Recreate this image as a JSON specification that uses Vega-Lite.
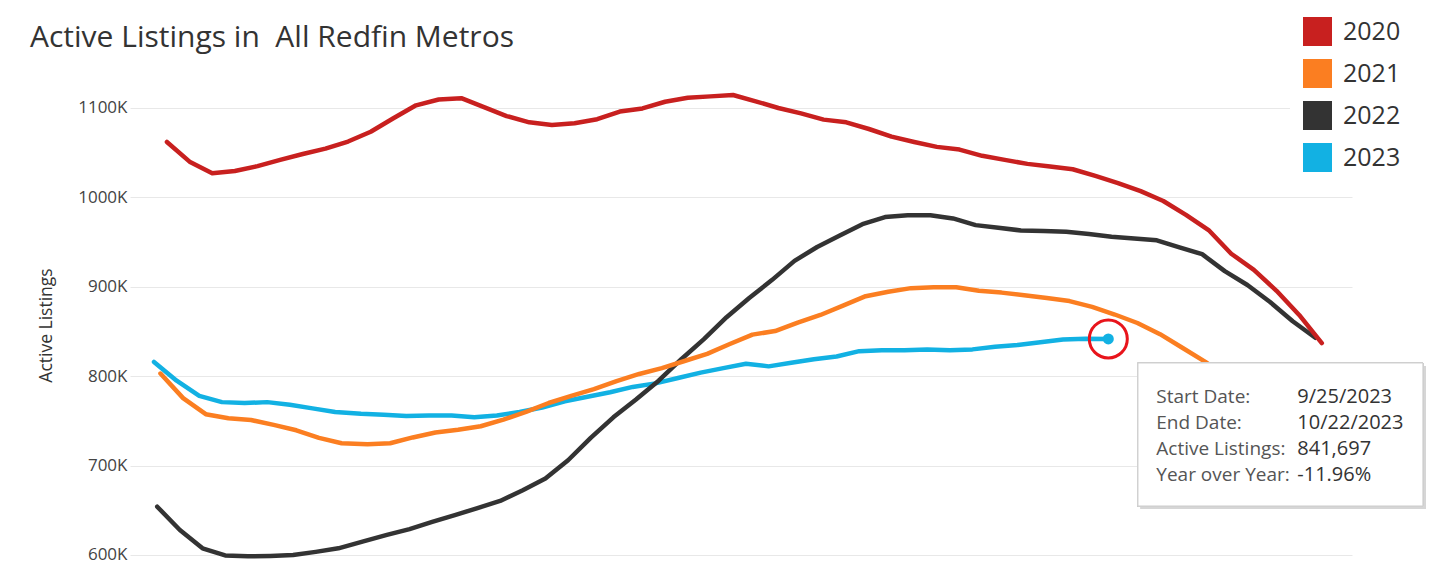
{
  "$schema": "https://vega.github.io/schema/vega-lite/v6.json",
  "width": 1222,
  "height": 516,
  "autosize": {"type": "none"},
  "padding": {"left": 130, "top": 60, "right": 78, "bottom": 0},
  "background": "white",
  "config": {"view": {"stroke": null}, "font": "Open Sans"},
  "title": {
    "text": "Active Listings in\u00a0 All Redfin Metros",
    "anchor": "start",
    "frame": "group",
    "dx": -100,
    "dy": 85,
    "offset": 12,
    "baseline": "alphabetic",
    "fontSize": 30,
    "font": "Open Sans",
    "fontWeight": "normal",
    "color": "#333333"
  },
  "data": {
    "values": [
      {"year": "2023", "date": "2023-01-01", "listings": 816000},
      {"year": "2023", "date": "2023-01-08", "listings": 795000},
      {"year": "2023", "date": "2023-01-15", "listings": 778000},
      {"year": "2023", "date": "2023-01-22", "listings": 771000},
      {"year": "2023", "date": "2023-01-29", "listings": 770000},
      {"year": "2023", "date": "2023-02-05", "listings": 771000},
      {"year": "2023", "date": "2023-02-12", "listings": 768000},
      {"year": "2023", "date": "2023-02-19", "listings": 764000},
      {"year": "2023", "date": "2023-02-26", "listings": 760000},
      {"year": "2023", "date": "2023-03-05", "listings": 758000},
      {"year": "2023", "date": "2023-03-12", "listings": 757000},
      {"year": "2023", "date": "2023-03-19", "listings": 755500},
      {"year": "2023", "date": "2023-03-26", "listings": 756000},
      {"year": "2023", "date": "2023-04-02", "listings": 756000},
      {"year": "2023", "date": "2023-04-09", "listings": 754000},
      {"year": "2023", "date": "2023-04-16", "listings": 756000},
      {"year": "2023", "date": "2023-04-23", "listings": 760000},
      {"year": "2023", "date": "2023-04-30", "listings": 765000},
      {"year": "2023", "date": "2023-05-07", "listings": 772000},
      {"year": "2023", "date": "2023-05-14", "listings": 777000},
      {"year": "2023", "date": "2023-05-21", "listings": 782000},
      {"year": "2023", "date": "2023-05-28", "listings": 788000},
      {"year": "2023", "date": "2023-06-04", "listings": 792000},
      {"year": "2023", "date": "2023-06-11", "listings": 798000},
      {"year": "2023", "date": "2023-06-18", "listings": 804000},
      {"year": "2023", "date": "2023-06-25", "listings": 809000},
      {"year": "2023", "date": "2023-07-02", "listings": 814000},
      {"year": "2023", "date": "2023-07-09", "listings": 811000},
      {"year": "2023", "date": "2023-07-16", "listings": 815000},
      {"year": "2023", "date": "2023-07-23", "listings": 819000},
      {"year": "2023", "date": "2023-07-30", "listings": 822000},
      {"year": "2023", "date": "2023-08-06", "listings": 828000},
      {"year": "2023", "date": "2023-08-13", "listings": 829000},
      {"year": "2023", "date": "2023-08-20", "listings": 829000},
      {"year": "2023", "date": "2023-08-27", "listings": 830000},
      {"year": "2023", "date": "2023-09-03", "listings": 829000},
      {"year": "2023", "date": "2023-09-10", "listings": 830000},
      {"year": "2023", "date": "2023-09-17", "listings": 833000},
      {"year": "2023", "date": "2023-09-24", "listings": 835000},
      {"year": "2023", "date": "2023-10-01", "listings": 838000},
      {"year": "2023", "date": "2023-10-08", "listings": 841000},
      {"year": "2023", "date": "2023-10-15", "listings": 842000},
      {"year": "2023", "date": "2023-10-22", "listings": 841697},
      {"year": "2022", "date": "2022-01-02", "listings": 654000},
      {"year": "2022", "date": "2022-01-09", "listings": 628000},
      {"year": "2022", "date": "2022-01-16", "listings": 607500},
      {"year": "2022", "date": "2022-01-23", "listings": 599500},
      {"year": "2022", "date": "2022-01-30", "listings": 598500},
      {"year": "2022", "date": "2022-02-06", "listings": 599000},
      {"year": "2022", "date": "2022-02-13", "listings": 600000},
      {"year": "2022", "date": "2022-02-20", "listings": 603500},
      {"year": "2022", "date": "2022-02-27", "listings": 607500},
      {"year": "2022", "date": "2022-03-06", "listings": 615500},
      {"year": "2022", "date": "2022-03-13", "listings": 622500},
      {"year": "2022", "date": "2022-03-20", "listings": 629000},
      {"year": "2022", "date": "2022-03-27", "listings": 637000},
      {"year": "2022", "date": "2022-04-03", "listings": 644500},
      {"year": "2022", "date": "2022-04-10", "listings": 652500},
      {"year": "2022", "date": "2022-04-17", "listings": 660500},
      {"year": "2022", "date": "2022-04-24", "listings": 672500},
      {"year": "2022", "date": "2022-05-01", "listings": 685500},
      {"year": "2022", "date": "2022-05-08", "listings": 706000},
      {"year": "2022", "date": "2022-05-15", "listings": 731000},
      {"year": "2022", "date": "2022-05-22", "listings": 754000},
      {"year": "2022", "date": "2022-05-29", "listings": 774000},
      {"year": "2022", "date": "2022-06-05", "listings": 795000},
      {"year": "2022", "date": "2022-06-12", "listings": 819000},
      {"year": "2022", "date": "2022-06-19", "listings": 841500},
      {"year": "2022", "date": "2022-06-26", "listings": 866000},
      {"year": "2022", "date": "2022-07-03", "listings": 887500},
      {"year": "2022", "date": "2022-07-10", "listings": 907500},
      {"year": "2022", "date": "2022-07-17", "listings": 929000},
      {"year": "2022", "date": "2022-07-24", "listings": 944500},
      {"year": "2022", "date": "2022-07-31", "listings": 957500},
      {"year": "2022", "date": "2022-08-07", "listings": 970000},
      {"year": "2022", "date": "2022-08-14", "listings": 978000},
      {"year": "2022", "date": "2022-08-21", "listings": 980000},
      {"year": "2022", "date": "2022-08-28", "listings": 980000},
      {"year": "2022", "date": "2022-09-04", "listings": 976500},
      {"year": "2022", "date": "2022-09-11", "listings": 969000},
      {"year": "2022", "date": "2022-09-18", "listings": 966000},
      {"year": "2022", "date": "2022-09-25", "listings": 963000},
      {"year": "2022", "date": "2022-10-02", "listings": 962500},
      {"year": "2022", "date": "2022-10-09", "listings": 961500},
      {"year": "2022", "date": "2022-10-16", "listings": 959000},
      {"year": "2022", "date": "2022-10-23", "listings": 956000},
      {"year": "2022", "date": "2022-10-30", "listings": 954000},
      {"year": "2022", "date": "2022-11-06", "listings": 952000},
      {"year": "2022", "date": "2022-11-13", "listings": 944000},
      {"year": "2022", "date": "2022-11-20", "listings": 936500},
      {"year": "2022", "date": "2022-11-27", "listings": 917500},
      {"year": "2022", "date": "2022-12-04", "listings": 902000},
      {"year": "2022", "date": "2022-12-11", "listings": 883000},
      {"year": "2022", "date": "2022-12-18", "listings": 861500},
      {"year": "2022", "date": "2022-12-25", "listings": 843000},
      {"year": "2021", "date": "2021-01-03", "listings": 803000},
      {"year": "2021", "date": "2021-01-10", "listings": 775500},
      {"year": "2021", "date": "2021-01-17", "listings": 757500},
      {"year": "2021", "date": "2021-01-24", "listings": 753000},
      {"year": "2021", "date": "2021-01-31", "listings": 751000},
      {"year": "2021", "date": "2021-02-07", "listings": 745500},
      {"year": "2021", "date": "2021-02-14", "listings": 739500},
      {"year": "2021", "date": "2021-02-21", "listings": 731000},
      {"year": "2021", "date": "2021-02-28", "listings": 725000},
      {"year": "2021", "date": "2021-03-07", "listings": 724000},
      {"year": "2021", "date": "2021-03-14", "listings": 725000},
      {"year": "2021", "date": "2021-03-21", "listings": 731500},
      {"year": "2021", "date": "2021-03-28", "listings": 737000},
      {"year": "2021", "date": "2021-04-04", "listings": 740000},
      {"year": "2021", "date": "2021-04-11", "listings": 744000},
      {"year": "2021", "date": "2021-04-18", "listings": 751500},
      {"year": "2021", "date": "2021-04-25", "listings": 760000},
      {"year": "2021", "date": "2021-05-02", "listings": 770000},
      {"year": "2021", "date": "2021-05-09", "listings": 778000},
      {"year": "2021", "date": "2021-05-16", "listings": 785500},
      {"year": "2021", "date": "2021-05-23", "listings": 794500},
      {"year": "2021", "date": "2021-05-30", "listings": 802500},
      {"year": "2021", "date": "2021-06-06", "listings": 809000},
      {"year": "2021", "date": "2021-06-13", "listings": 817000},
      {"year": "2021", "date": "2021-06-20", "listings": 825000},
      {"year": "2021", "date": "2021-06-27", "listings": 836000},
      {"year": "2021", "date": "2021-07-04", "listings": 846500},
      {"year": "2021", "date": "2021-07-11", "listings": 850500},
      {"year": "2021", "date": "2021-07-18", "listings": 860000},
      {"year": "2021", "date": "2021-07-25", "listings": 868500},
      {"year": "2021", "date": "2021-08-01", "listings": 879000},
      {"year": "2021", "date": "2021-08-08", "listings": 889500},
      {"year": "2021", "date": "2021-08-15", "listings": 894500},
      {"year": "2021", "date": "2021-08-22", "listings": 898500},
      {"year": "2021", "date": "2021-08-29", "listings": 899500},
      {"year": "2021", "date": "2021-09-05", "listings": 899500},
      {"year": "2021", "date": "2021-09-12", "listings": 895500},
      {"year": "2021", "date": "2021-09-19", "listings": 893500},
      {"year": "2021", "date": "2021-09-26", "listings": 890500},
      {"year": "2021", "date": "2021-10-03", "listings": 887500},
      {"year": "2021", "date": "2021-10-10", "listings": 884000},
      {"year": "2021", "date": "2021-10-17", "listings": 877500},
      {"year": "2021", "date": "2021-10-24", "listings": 869000},
      {"year": "2021", "date": "2021-10-31", "listings": 859500},
      {"year": "2021", "date": "2021-11-07", "listings": 847000},
      {"year": "2021", "date": "2021-11-14", "listings": 831500},
      {"year": "2021", "date": "2021-11-21", "listings": 816000},
      {"year": "2021", "date": "2021-11-28", "listings": 798000},
      {"year": "2021", "date": "2021-12-05", "listings": 779000},
      {"year": "2021", "date": "2021-12-12", "listings": 760000},
      {"year": "2021", "date": "2021-12-19", "listings": 742000},
      {"year": "2021", "date": "2021-12-26", "listings": 723000},
      {"year": "2020", "date": "2020-01-05", "listings": 1062000},
      {"year": "2020", "date": "2020-01-12", "listings": 1040000},
      {"year": "2020", "date": "2020-01-19", "listings": 1027000},
      {"year": "2020", "date": "2020-01-26", "listings": 1029500},
      {"year": "2020", "date": "2020-02-02", "listings": 1035000},
      {"year": "2020", "date": "2020-02-09", "listings": 1042000},
      {"year": "2020", "date": "2020-02-16", "listings": 1048500},
      {"year": "2020", "date": "2020-02-23", "listings": 1054500},
      {"year": "2020", "date": "2020-03-01", "listings": 1062500},
      {"year": "2020", "date": "2020-03-08", "listings": 1073500},
      {"year": "2020", "date": "2020-03-15", "listings": 1088500},
      {"year": "2020", "date": "2020-03-22", "listings": 1103000},
      {"year": "2020", "date": "2020-03-29", "listings": 1109500},
      {"year": "2020", "date": "2020-04-05", "listings": 1111000},
      {"year": "2020", "date": "2020-04-12", "listings": 1101000},
      {"year": "2020", "date": "2020-04-19", "listings": 1091000},
      {"year": "2020", "date": "2020-04-26", "listings": 1084000},
      {"year": "2020", "date": "2020-05-03", "listings": 1081000},
      {"year": "2020", "date": "2020-05-10", "listings": 1083000},
      {"year": "2020", "date": "2020-05-17", "listings": 1087500},
      {"year": "2020", "date": "2020-05-24", "listings": 1096000},
      {"year": "2020", "date": "2020-05-31", "listings": 1099500},
      {"year": "2020", "date": "2020-06-07", "listings": 1107000},
      {"year": "2020", "date": "2020-06-14", "listings": 1111500},
      {"year": "2020", "date": "2020-06-21", "listings": 1113000},
      {"year": "2020", "date": "2020-06-28", "listings": 1114500},
      {"year": "2020", "date": "2020-07-05", "listings": 1107500},
      {"year": "2020", "date": "2020-07-12", "listings": 1100000},
      {"year": "2020", "date": "2020-07-19", "listings": 1094000},
      {"year": "2020", "date": "2020-07-26", "listings": 1087000},
      {"year": "2020", "date": "2020-08-02", "listings": 1084000},
      {"year": "2020", "date": "2020-08-09", "listings": 1076500},
      {"year": "2020", "date": "2020-08-16", "listings": 1068000},
      {"year": "2020", "date": "2020-08-23", "listings": 1062000},
      {"year": "2020", "date": "2020-08-30", "listings": 1056500},
      {"year": "2020", "date": "2020-09-06", "listings": 1053500},
      {"year": "2020", "date": "2020-09-13", "listings": 1046500},
      {"year": "2020", "date": "2020-09-20", "listings": 1042000},
      {"year": "2020", "date": "2020-09-27", "listings": 1037500},
      {"year": "2020", "date": "2020-10-04", "listings": 1034500},
      {"year": "2020", "date": "2020-10-11", "listings": 1031500},
      {"year": "2020", "date": "2020-10-18", "listings": 1024000},
      {"year": "2020", "date": "2020-10-25", "listings": 1016000},
      {"year": "2020", "date": "2020-11-01", "listings": 1007000},
      {"year": "2020", "date": "2020-11-08", "listings": 996000},
      {"year": "2020", "date": "2020-11-15", "listings": 980500},
      {"year": "2020", "date": "2020-11-22", "listings": 963500},
      {"year": "2020", "date": "2020-11-29", "listings": 937000},
      {"year": "2020", "date": "2020-12-06", "listings": 919000},
      {"year": "2020", "date": "2020-12-13", "listings": 895500},
      {"year": "2020", "date": "2020-12-20", "listings": 868500},
      {"year": "2020", "date": "2020-12-27", "listings": 837000}
    ]
  },
  "layer": [
    {
      "mark": {"type": "line", "strokeWidth": 4.5, "strokeJoin": "round", "strokeCap": "round"},
      "encoding": {
        "x": {
          "field": "date",
          "type": "temporal",
          "timeUnit": "utcmonthdate",
          "scale": {
            "domain": [
              {"year": 2011, "month": 12, "date": 24, "hours": 14, "utc": true},
              {"year": 2013, "month": 1, "date": 5, "hours": 8, "utc": true}
            ]
          },
          "axis": null
        },
        "y": {
          "field": "listings",
          "type": "quantitative",
          "scale": {"domain": [576510, 1153690], "nice": false, "zero": false},
          "axis": {
            "title": "Active Listings",
            "values": [600000, 700000, 800000, 900000, 1000000, 1100000],
            "labelExpr": "(datum.value / 1000) + 'K'",
            "grid": true,
            "gridColor": "#e8e8e8",
            "gridWidth": 1,
            "domain": false,
            "ticks": false,
            "labelPadding": 3,
            "labelFont": "Open Sans",
            "labelFontSize": 17,
            "labelColor": "#444444",
            "labelBaseline": "middle",
            "titleFont": "Open Sans",
            "titleFontSize": 17.5,
            "titleFontWeight": "normal",
            "titleColor": "#333333",
            "titleX": -84,
            "titleY": 265,
            "titleAngle": -90,
            "titleAlign": "center",
            "titleBaseline": "middle"
          }
        },
        "color": {
          "field": "year",
          "type": "nominal",
          "scale": {
            "domain": ["2020", "2021", "2022", "2023"],
            "range": ["#c8201f", "#fb7e21", "#333333", "#12b1e3"]
          },
          "legend": {
            "title": null,
            "orient": "none",
            "legendX": 1160,
            "legendY": -56,
            "padding": 13,
            "fillColor": "white",
            "symbolType": "square",
            "symbolSize": 841,
            "labelFont": "Open Sans",
            "labelFontSize": 25,
            "labelColor": "#333333",
            "labelOffset": 11,
            "rowPadding": 13,
            "encode": {
              "symbols": {
                "update": {
                  "fill": {"scale": "color", "field": "value"},
                  "fillOpacity": {"value": 1},
                  "strokeWidth": {"value": 0}
                }
              }
            }
          }
        }
      }
    },
    {
      "mark": {"type": "rect", "color": "#d6d6d6"},
      "encoding": {
        "x": {"datum": {"year": 2012, "month": 11, "date": 1, "hours": 2, "utc": true}, "type": "temporal"},
        "x2": {"datum": {"year": 2013, "month": 1, "date": 28, "hours": 5, "utc": true}},
        "y": {"datum": 811400, "type": "quantitative"},
        "y2": {"datum": 651450}
      }
    },
    {
      "mark": {"type": "rect", "fill": "white", "stroke": "#cfcfcf", "strokeWidth": 1},
      "encoding": {
        "x": {"datum": {"year": 2012, "month": 10, "date": 31, "hours": 4, "utc": true}, "type": "temporal"},
        "x2": {"datum": {"year": 2013, "month": 1, "date": 27, "hours": 6, "utc": true}},
        "y": {"datum": 814765, "type": "quantitative"},
        "y2": {"datum": 654810}
      }
    },
    {
      "transform": [{"filter": "datum.year == '2023' && datum.listings == 841697"}],
      "mark": {
        "type": "text",
        "text": ["Start Date:", "End Date:", "Active Listings:", "Year over Year:"],
        "align": "left",
        "baseline": "alphabetic",
        "dx": 48,
        "dy": 64,
        "lineHeight": 26,
        "font": "Open Sans",
        "fontSize": 19,
        "color": "#555555"
      },
      "encoding": {
        "x": {"field": "date", "type": "temporal", "timeUnit": "utcmonthdate"},
        "y": {"field": "listings", "type": "quantitative"}
      }
    },
    {
      "transform": [{"filter": "datum.year == '2023' && datum.listings == 841697"}],
      "mark": {
        "type": "text",
        "text": ["9/25/2023", "10/22/2023", "841,697", "-11.96%"],
        "align": "left",
        "baseline": "alphabetic",
        "dx": 189,
        "dy": 64,
        "lineHeight": 26,
        "font": "Open Sans",
        "fontSize": 20,
        "color": "#333333"
      },
      "encoding": {
        "x": {"field": "date", "type": "temporal", "timeUnit": "utcmonthdate"},
        "y": {"field": "listings", "type": "quantitative"}
      }
    },
    {
      "transform": [{"filter": "datum.year == '2023' && datum.listings == 841697"}],
      "mark": {"type": "point", "filled": true, "size": 121, "color": "#12b1e3", "opacity": 1},
      "encoding": {
        "x": {"field": "date", "type": "temporal", "timeUnit": "utcmonthdate"},
        "y": {"field": "listings", "type": "quantitative"}
      }
    },
    {
      "transform": [{"filter": "datum.year == '2023' && datum.listings == 841697"}],
      "mark": {"type": "point", "filled": false, "size": 1444, "stroke": "#e8141b", "strokeWidth": 3, "opacity": 1},
      "encoding": {
        "x": {"field": "date", "type": "temporal", "timeUnit": "utcmonthdate"},
        "y": {"field": "listings", "type": "quantitative"}
      }
    }
  ]
}
